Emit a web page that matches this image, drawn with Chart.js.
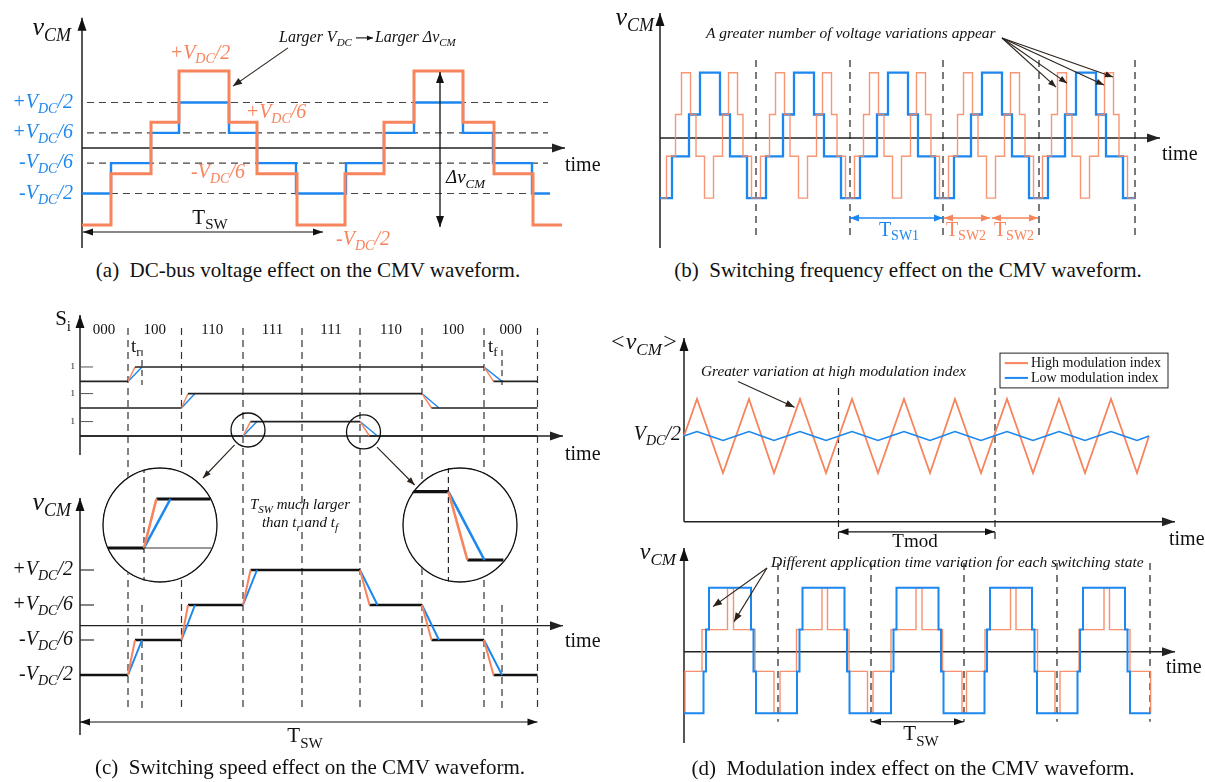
<!DOCTYPE html>
<html>
<head>
<meta charset="utf-8">
<title>CMV waveform effects</title>
<script src="https://cdn.jsdelivr.net/npm/chart.js@4.4.1/dist/chart.umd.min.js"></script>
<style>
    body { margin: 0; background: #fff; }
    #page { position: relative; width: 1205px; height: 782px; overflow: hidden; font-family: "Liberation Serif", "Times New Roman", serif; color: #111; }
    canvas.plot { position: absolute; }
    .inset { position: absolute; width: 116px; height: 116px; border-radius: 50%; overflow: hidden; background: #fff; }
    .caption { position: absolute; width: 600px; text-align: center; font-size: 21px; line-height: 24px; white-space: nowrap; }
</style>
</head>
<body>
<div id="page">
    <canvas id="chartA" class="plot" width="600" height="258" style="left:0;top:0"></canvas>
    <canvas id="chartB" class="plot" width="605" height="258" style="left:600px;top:0"></canvas>
    <canvas id="chartCTop" class="plot" width="600" height="210" style="left:0;top:290px"></canvas>
    <canvas id="chartCBot" class="plot" width="600" height="300" style="left:0;top:455px"></canvas>
    <canvas id="chartDTop" class="plot" width="605" height="240" style="left:600px;top:320px"></canvas>
    <canvas id="chartDBot" class="plot" width="605" height="220" style="left:600px;top:540px"></canvas>
    <div class="inset" style="left:102px;top:467px"><canvas id="zoomRise" width="116" height="116"></canvas></div>
    <div class="inset" style="left:402px;top:467px"><canvas id="zoomFall" width="116" height="116"></canvas></div>
    <div class="caption" style="left:8px;top:258px">(a)&nbsp;&nbsp;DC-bus voltage effect on the CMV waveform.</div>
    <div class="caption" style="left:608px;top:258px">(b)&nbsp;&nbsp;Switching frequency effect on the CMV waveform.</div>
    <div class="caption" style="left:10px;top:755px">(c)&nbsp;&nbsp;Switching speed effect on the CMV waveform.</div>
    <div class="caption" style="left:613px;top:756px">(d)&nbsp;&nbsp;Modulation index effect on the CMV waveform.</div>
</div>
<script>
// (a) DC-bus voltage: same switching instants, two bus voltages (levels in units of the low V_DC)
const aBlueT = [0, 29, 69, 97, 147, 175, 214, 264, 302, 332, 381, 411, 450, 468];
const aBlueV = [-0.5, -1/6, 1/6, 0.5, 1/6, -1/6, -0.5, -1/6, 1/6, 0.5, 1/6, -1/6, -0.5, -0.5];
const aOrangeT = [0, 29, 69, 97, 147, 175, 215, 263, 302, 332, 381, 412, 451, 480];
const aOrangeV = [-0.846, -0.282, 0.282, 0.846, 0.282, -0.282, -0.846, -0.282, 0.282, 0.846, 0.282, -0.282, -0.846, -0.846];
const aLevels = [0.5, 1/6, -1/6, -0.5];
const aLevelLabels = ['+V_{DC}/2', '+V_{DC}/6', '-V_{DC}/6', '-V_{DC}/2'];

// (b) switching frequency: levels -3,-1,+1,+3 (V_DC/6 steps)
const bBlueT = [0, 12, 29, 40, 60, 70, 87, 106, 123, 134, 154, 164, 181, 200, 217, 228, 248, 258, 275,
    294, 311, 322, 342, 352, 369, 388, 405, 416, 436, 446, 463, 475];
const bBlueV = [-3, -1, 1, 3, 1, -1, -3, -1, 1, 3, 1, -1, -3, -1, 1, 3, 1, -1, -3,
    -1, 1, 3, 1, -1, -3, -1, 1, 3, 1, -1, -3, -3];
const bOrangeT = [1, 6.5, 15.5, 21.5, 30.5, 36, 44.5, 53.5, 62.5, 68.5, 77.5, 83, 91.5,
    100.5, 109.5, 115.5, 124.5, 130, 138.5, 147.5, 156.5, 162.5, 171.5, 177, 185.5,
    194.5, 203.5, 209.5, 218.5, 224, 232.5, 241.5, 250.5, 256.5, 265.5, 271, 279.5,
    288.5, 297.5, 303.5, 312.5, 318, 326.5, 335.5, 344.5, 350.5, 359.5, 365, 373.5,
    382.5, 391.5, 397.5, 406.5, 412, 420.5, 429.5, 438.5, 444.5, 453.5, 459, 467.5, 475];
const bOrangeV = [-3, -1, 1, 3, 1, -1, -3, -1, 1, 3, 1, -1, -3,
    -1, 1, 3, 1, -1, -3, -1, 1, 3, 1, -1, -3,
    -1, 1, 3, 1, -1, -3, -1, 1, 3, 1, -1, -3,
    -1, 1, 3, 1, -1, -3, -1, 1, 3, 1, -1, -3,
    -1, 1, 3, 1, -1, -3, -1, 1, 3, 1, -1, -3, -3];
const bPeriodT = [96, 190, 283, 379, 475];

// (c) switching speed: edge start, end of fast (orange) and slow (blue) transition
const cEdgeT = [48, 101.5, 163, 280, 342, 404];
const cEdgeEndO = [55, 108, 170.5, 289.5, 351.5, 413.5];
const cEdgeEndB = [62, 115, 177, 297.5, 359, 422];
const cLevels = [-0.5, -1/6, 1/6, 0.5, 1/6, -1/6, -0.5];
const cLevelLabels = ['-V_{DC}/2', '-V_{DC}/6', '+V_{DC}/6', '+V_{DC}/2'];
const cStates = ['000', '100', '110', '111', '111', '110', '100', '000'];
const cHalfT = 222;
const cEndT = 457.5;
const cRowRise = [0, 1, 2];
const cRowFall = [5, 4, 3];
const zoomRiseT = [-36, 0, 12.4, 26.4, 66.5];
const zoomFallT = [-36.5, 0, 19, 36, 55];

// (d) modulation index: averaged CMV and instantaneous CMV
const dAvgT = [0, 6.5, 13, 26, 39, 52, 65, 77.5, 90, 103, 116, 129, 142, 155, 168, 181, 194, 207, 220, 233,
    246, 258.5, 271, 284, 297, 310, 323, 336, 349, 362, 375, 388, 401, 414, 427, 440, 453, 459, 465];
const dAvgHigh = [0, 0.5, 1, 0, -1, 0, 1, 0, -1, 0, 1, 0, -1, 0, 1, 0, -1, 0, 1, 0,
    -1, 0, 1, 0, -1, 0, 1, 0, -1, 0, 1, 0, -1, 0, 1, 0, -1, -0.5, 0];
const dAvgLow = [0, 0.06, 0.12, 0, -0.12, 0, 0.12, 0, -0.12, 0, 0.12, 0, -0.12, 0, 0.12, 0, -0.12, 0, 0.12, 0,
    -0.12, 0, 0.12, 0, -0.12, 0, 0.12, 0, -0.12, 0, 0.12, 0, -0.12, 0, 0.12, 0, -0.12, -0.06, 0];
const dModT = [154.5, 311];
const dLowT = [0, 19.5, 22, 25, 67, 69.5, 72, 113, 115.5, 118.5, 160.5, 163, 165.5, 207, 209.5, 212.5, 254.5, 257, 259.5,
    300.5, 303, 306, 348, 350.5, 353, 393.5, 396, 399, 441, 443.5, 446, 466.6];
const dLowV = [-3, -1, 1, 3, 1, -1, -3, -1, 1, 3, 1, -1, -3, -1, 1, 3, 1, -1, -3,
    -1, 1, 3, 1, -1, -3, -1, 1, 3, 1, -1, -3, -3];
const dHighT = [0, 1, 18, 43.5, 49.5, 71, 90, 96, 112.5, 138, 143.5, 165, 183.5, 189, 207, 232, 238, 258.5, 278, 282.5,
    301, 326.5, 332, 353.5, 371, 376, 395, 420, 425.5, 446, 466.6];
const dHighV = [-3, -1, 1, 3, 1, -1, -3, -1, 1, 3, 1, -1, -3, -1, 1, 3, 1, -1, -3, -1,
    1, 3, 1, -1, -3, -1, 1, 3, 1, -1, -3];
const dSwT = [94, 187, 280, 373, 466];

const INK = '#111';
const ORANGE = '#F7845D';
const BLUE = '#1B87EF';
const FONT = '"Liberation Serif", "Times New Roman", serif';

function pts(xs, ys) {
    return xs.map((x, i) => ({ x, y: ys[i] }));
}

function line(data, color, width, extra) {
    return Object.assign({
        data, borderColor: color, borderWidth: width, pointRadius: 0, fill: false,
        borderJoinStyle: 'miter', borderCapStyle: 'butt'
    }, extra || {});
}

// black level line plus orange/blue ramps for a list of edges
function edgeTraces(t0, t1, v0, edges) {
    const black = [{ x: t0, y: v0 }], orange = [], blue = [];
    let prev = v0;
    edges.forEach(e => {
        black.push({ x: e.t, y: prev }, { x: e.t, y: null }, { x: e.o, y: e.v });
        orange.push({ x: e.t, y: prev }, { x: e.o, y: e.v }, { x: e.o, y: null });
        blue.push({ x: e.t, y: prev }, { x: e.b, y: e.v }, { x: e.b, y: null });
        prev = e.v;
    });
    black.push({ x: t1, y: prev });
    return { black, orange, blue };
}

function frame(left, top, w, h, axisX, y0, u) {
    return { x: [left - axisX, left + w - axisX], y: [-(top + h - y0) / u, (y0 - top) / u] };
}

function rich(ctx, s, x, y, o) {
    const size = o.size || 18;
    const parts = [];
    const re = /_\{([^}]*)\}/g;
    let last = 0, m;
    while ((m = re.exec(s))) {
        if (m.index > last) parts.push({ t: s.slice(last, m.index), sub: false });
        parts.push({ t: m[1], sub: true });
        last = re.lastIndex;
    }
    if (last < s.length) parts.push({ t: s.slice(last), sub: false });
    const font = sub => (o.italic ? 'italic ' : '') + (sub ? Math.round(size * 0.7) : size) + 'px ' + FONT;
    let w = 0;
    parts.forEach(p => { ctx.font = font(p.sub); p.w = ctx.measureText(p.t).width; w += p.w; });
    let cx = o.align === 'right' ? x - w : o.align === 'center' ? x - w / 2 : x;
    ctx.fillStyle = o.color || INK;
    ctx.textAlign = 'left';
    ctx.textBaseline = 'middle';
    parts.forEach(p => {
        ctx.font = font(p.sub);
        ctx.fillText(p.t, cx, p.sub ? y + size * 0.32 : y);
        cx += p.w;
    });
    return cx;
}

function seg(ctx, x1, y1, x2, y2, color, lw, dash) {
    ctx.strokeStyle = color;
    ctx.lineWidth = lw;
    ctx.setLineDash(dash || []);
    ctx.beginPath();
    ctx.moveTo(x1, y1);
    ctx.lineTo(x2, y2);
    ctx.stroke();
    ctx.setLineDash([]);
}

function arrow(ctx, x1, y1, x2, y2, o) {
    o = o || {};
    const col = o.color || INK, hl = o.head || 9, hw = o.headW || 3.5;
    seg(ctx, x1, y1, x2, y2, col, o.width || 1.1);
    ctx.fillStyle = col;
    const head = (x, y, a) => {
        ctx.beginPath();
        ctx.moveTo(x, y);
        ctx.lineTo(x - hl * Math.cos(a) + hw * Math.sin(a), y - hl * Math.sin(a) - hw * Math.cos(a));
        ctx.lineTo(x - hl * Math.cos(a) - hw * Math.sin(a), y - hl * Math.sin(a) + hw * Math.cos(a));
        ctx.closePath();
        ctx.fill();
    };
    const a = Math.atan2(y2 - y1, x2 - x1);
    head(x2, y2, a);
    if (o.both) head(x1, y1, a + Math.PI);
}

function axes(ctx, X, Y, yLo, yHi, yTime, xEnd) {
    arrow(ctx, X(0), Y(yLo), X(0), Y(yHi), { width: 1.4, head: 13, headW: 4.5 });
    arrow(ctx, X(0), Y(yTime), X(xEnd), Y(yTime), { width: 1.4, head: 13, headW: 4.5, color: '#222' });
}

function plot(id, fr, datasets, before, after) {
    const run = (c, fn) => {
        if (!fn) return;
        const ctx = c.ctx;
        const X = v => c.scales.x.getPixelForValue(v);
        const Y = v => c.scales.y.getPixelForValue(v);
        ctx.save();
        fn(ctx, X, Y, c);
        ctx.restore();
    };
    return new Chart(document.getElementById(id), {
        type: 'line',
        data: { datasets },
        options: {
            responsive: false,
            animation: false,
            events: [],
            layout: { padding: 0 },
            scales: {
                x: { type: 'linear', min: fr.x[0], max: fr.x[1], display: false },
                y: { type: 'linear', min: fr.y[0], max: fr.y[1], display: false }
            },
            plugins: { legend: { display: false }, tooltip: { enabled: false } }
        },
        plugins: [{
            id: 'deco',
            beforeDatasetsDraw: c => run(c, before),
            afterDatasetsDraw: c => run(c, after)
        }]
    });
}

// (a) DC-bus voltage effect
plot('chartA', frame(0, 0, 600, 258, 82, 148, 91), [
    line(pts(aOrangeT, aOrangeV), ORANGE, 3, { stepped: 'before' }),
    line(pts(aBlueT, aBlueV), BLUE, 2.4, { stepped: 'before' })
], (ctx, X, Y) => {
    aLevels.forEach(v => seg(ctx, X(5), Y(v), X(466), Y(v), '#444', 1.1, [7, 5]));
    axes(ctx, X, Y, -1.1, 1.43, 0, 483);
}, (ctx, X, Y) => {
    rich(ctx, 'v_{CM}', X(-11), Y(1.32), { size: 26, italic: true, align: 'right' });
    aLevels.forEach((v, i) => rich(ctx, aLevelLabels[i], X(-9), Y(v), { size: 20, italic: true, align: 'right', color: BLUE }));
    rich(ctx, '+V_{DC}/2', X(118), Y(1.04), { size: 20, italic: true, align: 'center', color: ORANGE });
    rich(ctx, '+V_{DC}/6', X(194), Y(0.385), { size: 20, italic: true, align: 'center', color: ORANGE });
    rich(ctx, '-V_{DC}/6', X(136), Y(-0.275), { size: 20, italic: true, align: 'center', color: ORANGE });
    rich(ctx, '-V_{DC}/2', X(281), Y(-1.01), { size: 20, italic: true, align: 'center', color: ORANGE });
    rich(ctx, 'time', X(483), Y(-0.19), { size: 20 });
    arrow(ctx, X(1), Y(-0.923), X(241), Y(-0.923), { both: true, head: 10 });
    rich(ctx, 'T_{SW}', X(128), Y(-0.77), { size: 21, align: 'center' });
    arrow(ctx, X(358), Y(-0.868), X(358), Y(0.835), { both: true, width: 1.3, head: 11, headW: 4 });
    rich(ctx, 'Δv_{CM}', X(364), Y(-0.33), { size: 19, italic: true });
    const end = rich(ctx, 'Larger V_{DC}', X(197), Y(1.21), { size: 16, italic: true });
    arrow(ctx, end + 4, Y(1.21), end + 21, Y(1.21), { head: 6, headW: 2.5 });
    rich(ctx, 'Larger Δv_{CM}', end + 23, Y(1.21), { size: 16, italic: true });
    arrow(ctx, X(206), Y(1.1), X(151), Y(0.68), { color: '#2b2119' });
});

// (b) Switching frequency effect
plot('chartB', frame(600, 0, 605, 258, 660, 135.4, 20.9), [
    line(pts(bOrangeT, bOrangeV), 'rgba(247,132,93,0.85)', 1.4, { stepped: 'before' }),
    line(pts(bBlueT, bBlueV), BLUE, 2.3, { stepped: 'before' })
], (ctx, X, Y) => {
    axes(ctx, X, Y, -5.39, 5.86, -0.124, 500);
    bPeriodT.forEach(t => seg(ctx, X(t), Y(3.61), X(t), Y(-4.95), '#222', 1.2, [7, 5]));
}, (ctx, X, Y) => {
    rich(ctx, 'v_{CM}', X(-6), Y(5.62), { size: 26, italic: true, align: 'right' });
    rich(ctx, 'time', X(502), Y(-0.94), { size: 20 });
    rich(ctx, 'A greater number of voltage variations appear', X(46), Y(4.85), { size: 15.5, italic: true });
    [[396, 2.31], [407, 2.5], [444, 2.41], [453, 2.79]].forEach(p =>
        arrow(ctx, X(342), Y(4.66), X(p[0]), Y(p[1]), { color: '#2b2119', head: 8, headW: 3 }));
    arrow(ctx, X(bPeriodT[1]), Y(-3.95), X(bPeriodT[2]), Y(-3.95), { both: true, color: BLUE, width: 1.4, head: 9 });
    rich(ctx, 'T_{SW1}', X(239), Y(-4.54), { size: 20, align: 'center', color: BLUE });
    arrow(ctx, X(284), Y(-3.95), X(330), Y(-3.95), { both: true, color: ORANGE, width: 1.4, head: 9 });
    arrow(ctx, X(332), Y(-3.95), X(378), Y(-3.95), { both: true, color: ORANGE, width: 1.4, head: 9 });
    rich(ctx, 'T_{SW2}', X(306), Y(-4.54), { size: 20, align: 'center', color: ORANGE });
    rich(ctx, 'T_{SW2}', X(354), Y(-4.54), { size: 20, align: 'center', color: ORANGE });
});

// (c) Switching speed effect, top: gate signals of the three legs
const ROW_OFFSET = [3.9, 2, 0];
const rowSets = [];
ROW_OFFSET.forEach((b, k) => {
    const r = cRowRise[k], f = cRowFall[k];
    const tr = edgeTraces(0, cEndT, b, [
        { t: cEdgeT[r], o: cEdgeEndO[r], b: cEdgeEndB[r], v: b + 1.03 },
        { t: cEdgeT[f], o: cEdgeEndO[f], b: cEdgeEndB[f], v: b }
    ]);
    rowSets.push(line(tr.black, '#222', 1.6), line(tr.orange, ORANGE, 1.4), line(tr.blue, BLUE, 1.4));
});
const cDashT = cEdgeT.slice(0, 3).concat([cHalfT], cEdgeT.slice(3), [cEndT]);
const cBounds = [0].concat(cDashT);

plot('chartCTop', frame(0, 290, 600, 210, 80, 436, 14), rowSets, (ctx, X, Y) => {
    axes(ctx, X, Y, -1.36, 8.64, 0, 483);
    cDashT.forEach(t => seg(ctx, X(t), Y(7.71), X(t), Y(-1.714), '#333', 1.2, [7, 5]));
    [cEdgeEndB[0], cEdgeEndB[5]].forEach(t => seg(ctx, X(t), Y(6.14), X(t), Y(3.64), '#333', 1.2, [6, 4]));
    ROW_OFFSET.forEach(b => {
        seg(ctx, X(0), Y(b + 1.03), X(13), Y(b + 1.03), '#555', 1);
        rich(ctx, '1', X(-5), Y(b + 1.03), { size: 9, align: 'right' });
    });
}, (ctx, X, Y) => {
    rich(ctx, 'S_{i}', X(-9), Y(8.29), { size: 21, align: 'right' });
    cStates.forEach((s, i) => rich(ctx, s, X((cBounds[i] + cBounds[i + 1]) / 2), Y(7.57), { size: 15, align: 'center' }));
    rich(ctx, 't_{r}', X(51), Y(6.36), { size: 19 });
    rich(ctx, 't_{f}', X(408), Y(6.36), { size: 19 });
    rich(ctx, 'time', X(485), Y(-1.36), { size: 20 });
    [[168, 0.43], [283.5, 0.29]].forEach(c => {
        ctx.strokeStyle = INK;
        ctx.lineWidth = 1.3;
        ctx.beginPath();
        ctx.arc(X(c[0]), Y(c[1]), 17, 0, Math.PI * 2);
        ctx.stroke();
    });
    arrow(ctx, X(154.6), Y(-0.64), X(123), Y(-3.0), { color: '#2b2119', head: 8, headW: 3 });
    arrow(ctx, X(297), Y(-0.79), X(334.6), Y(-3.5), { color: '#2b2119', head: 8, headW: 3 });
});

// (c) bottom: resulting CMV
const cm = edgeTraces(0, cEndT, cLevels[0], cEdgeT.map((t, i) => ({ t, o: cEdgeEndO[i], b: cEdgeEndB[i], v: cLevels[i + 1] })));
plot('chartCBot', frame(0, 455, 600, 300, 80, 622.5, 105), [
    line(cm.orange, ORANGE, 2), line(cm.blue, BLUE, 2), line(cm.black, INK, 2.6)
], (ctx, X, Y) => {
    axes(ctx, X, Y, -1.071, 1.186, -0.03, 483);
    cDashT.forEach(t => seg(ctx, X(t), Y(1.548), X(t), Y(-0.814), '#333', 1.2, [7, 5]));
    [cEdgeEndB[0], cEdgeEndB[5]].forEach(t => seg(ctx, X(t), Y(0.167), X(t), Y(-0.814), '#333', 1.2, [7, 5]));
    [-0.5, -1/6, 1/6, 0.5].forEach(v => seg(ctx, X(0), Y(v), X(14), Y(v), '#333', 1.2));
}, (ctx, X, Y) => {
    rich(ctx, 'v_{CM}', X(-9), Y(1.138), { size: 26, italic: true, align: 'right' });
    [-0.5, -1/6, 1/6, 0.5].forEach((v, i) => rich(ctx, cLevelLabels[i], X(-7), Y(v), { size: 20, italic: true, align: 'right' }));
    rich(ctx, 'time', X(485), Y(-0.186), { size: 20 });
    arrow(ctx, X(0), Y(-0.948), X(cEndT), Y(-0.948), { both: true, head: 10 });
    rich(ctx, 'T_{SW}', X(225), Y(-1.09), { size: 21, align: 'center' });
    rich(ctx, 'T_{SW} much larger', X(220), Y(1.12), { size: 15, italic: true, align: 'center' });
    rich(ctx, 'than t_{r} and t_{f}', X(220), Y(0.948), { size: 15, italic: true, align: 'center' });
});

// (c) magnified edges
const circle = (ctx) => {
    ctx.strokeStyle = INK;
    ctx.lineWidth = 1.4;
    ctx.beginPath();
    ctx.arc(58, 58, 57, 0, Math.PI * 2);
    ctx.stroke();
};
const zr = edgeTraces(zoomRiseT[0], zoomRiseT[4], 0, [{ t: zoomRiseT[1], o: zoomRiseT[2], b: zoomRiseT[3], v: 1 }]);
plot('zoomRise', frame(0, 0, 116, 116, 42, 81, 49), [
    line([{ x: zoomRiseT[1], y: 0 }, { x: zoomRiseT[4] + 1, y: 0 }], '#333', 1),
    line(zr.orange, ORANGE, 2.6), line(zr.blue, BLUE, 2.6), line(zr.black, INK, 3.2)
], (ctx, X) => {
    seg(ctx, X(0), 0, X(0), 116, '#222', 1.2, [6, 4]);
}, circle);
const zf = edgeTraces(zoomFallT[0], zoomFallT[4], 1, [{ t: zoomFallT[1], o: zoomFallT[2], b: zoomFallT[3], v: 0 }]);
plot('zoomFall', frame(0, 0, 116, 116, 46.4, 93, 68.3), [
    line(zf.orange, ORANGE, 2.6), line(zf.blue, BLUE, 2.6), line(zf.black, INK, 3.2)
], (ctx, X) => {
    seg(ctx, X(0), 0, X(0), 116, '#222', 1.2, [6, 4]);
}, circle);

// (d) top: averaged CMV over the modulation period
plot('chartDTop', frame(600, 320, 605, 240, 684, 436, 37), [
    line(pts(dAvgT, dAvgLow), BLUE, 1.6, { label: 'Low modulation index' }),
    line(pts(dAvgT, dAvgHigh), ORANGE, 1.8, { label: 'High modulation index' })
], (ctx, X, Y) => {
    axes(ctx, X, Y, -2.316, 2.65, -2.316, 491);
    dModT.forEach(t => seg(ctx, X(t), Y(1.3), X(t), Y(-2.81), '#222', 1.2, [7, 5]));
}, (ctx, X, Y, c) => {
    rich(ctx, '<v_{CM}>', X(-6), Y(2.51), { size: 24, italic: true, align: 'right' });
    rich(ctx, 'V_{DC}/2', X(-3), Y(0.03), { size: 20, italic: true, align: 'right' });
    rich(ctx, 'time', X(485), Y(-2.81), { size: 20 });
    arrow(ctx, X(dModT[0]), Y(-2.59), X(dModT[1]), Y(-2.59), { both: true, head: 10 });
    rich(ctx, 'Tmod', X(231), Y(-2.86), { size: 19, align: 'center' });
    rich(ctx, 'Greater variation at high modulation index', X(17), Y(1.74), { size: 15.3, italic: true });
    arrow(ctx, X(54), Y(1.47), X(110.5), Y(0.78), { color: '#2b2119' });
    // legend
    ctx.fillStyle = '#fff';
    ctx.fillRect(X(316), Y(2.24), X(484) - X(316), Y(1.3) - Y(2.24));
    ctx.strokeStyle = '#222';
    ctx.lineWidth = 1;
    ctx.strokeRect(X(316), Y(2.24), X(484) - X(316), Y(1.3) - Y(2.24));
    [c.data.datasets[1], c.data.datasets[0]].forEach((ds, i) => {
        const y = Y(i === 0 ? 1.97 : 1.57);
        seg(ctx, X(320.7), y, X(344), y, ds.borderColor, 2);
        rich(ctx, ds.label, X(347), y, { size: 14 });
    });
});

// (d) bottom: instantaneous CMV
plot('chartDBot', frame(600, 540, 605, 220, 684, 650.5, 20.9), [
    line(pts(dLowT, dLowV), BLUE, 2, { stepped: 'before' }),
    line(pts(dHighT, dHighV), 'rgba(247,132,93,0.9)', 1.4, { stepped: 'before' })
], (ctx, X, Y) => {
    axes(ctx, X, Y, -4.43, 4.9, -0.06, 491);
    dSwT.forEach(t => seg(ctx, X(t), Y(4.19), X(t), Y(-3.41), '#222', 1.2, [7, 5]));
}, (ctx, X, Y) => {
    rich(ctx, 'v_{CM}', X(-8), Y(4.66), { size: 24, italic: true, align: 'right' });
    rich(ctx, 'time', X(482), Y(-0.84), { size: 20 });
    rich(ctx, 'Different application time variation for each switching state', X(87), Y(4.19), { size: 15.5, italic: true });
    arrow(ctx, X(83), Y(3.95), X(29), Y(2.1), { color: '#2b2119' });
    arrow(ctx, X(83), Y(3.95), X(50), Y(1.38), { color: '#2b2119' });
    arrow(ctx, X(dSwT[1]), Y(-3.41), X(dSwT[2]), Y(-3.41), { both: true, head: 10 });
    rich(ctx, 'T_{SW}', X(237), Y(-4.04), { size: 21, align: 'center' });
});
</script>
</body>
</html>
